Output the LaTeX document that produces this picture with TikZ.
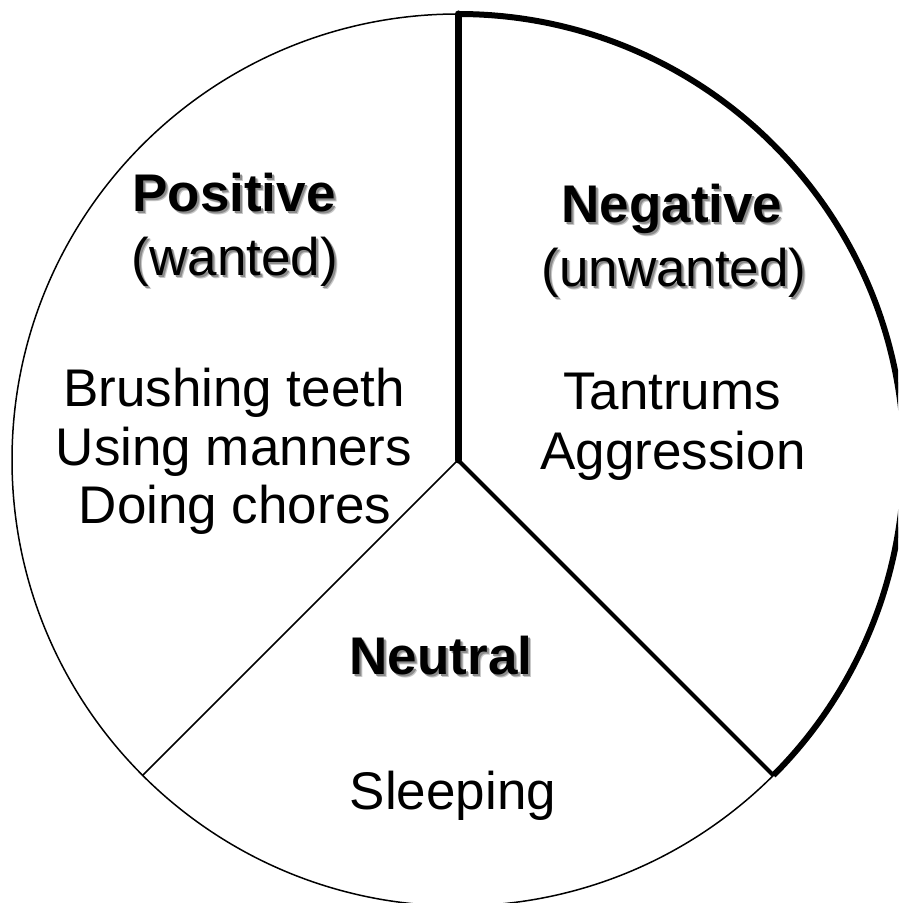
\documentclass[tikz,border=0pt]{standalone}
\usepackage{fontspec}
\setmainfont{Liberation Sans}
\newcommand{\shadowtext}[1]{%
  \makebox[0pt][l]{\hspace{3pt}\raisebox{-3pt}{\color{black!22}#1}}%
  \makebox[0pt][l]{\hspace{2pt}\raisebox{-2pt}{\color{black!45}#1}}%
  #1}

\begin{document}
\begin{tikzpicture}[
    x=1pt,
    y=1pt,
    every node/.style={
      inner sep=0pt,
      anchor=base,
      font=\fontsize{53}{60}\selectfont
    },
    heading/.style={font=\fontsize{53}{60}\selectfont\bfseries},
    thin edge/.style={line width=1.5pt},
    bold edge/.style={line width=6pt}
  ]
    \useasboundingbox (0, 0) rectangle (898, 903);
    \clip (0, 0) rectangle (898, 903);

    \coordinate (centre) at (458, 443);
    \coordinate (top) at (458, 889);
    \coordinate (low_left) at (142.6, 127.6);
    \coordinate (low_right) at (773.4, 127.6);

    \draw[thin edge] (centre) circle (446pt);
    \draw[thin edge] (centre) to (low_left);
    \draw[bold edge] (top) arc[start angle=90, end angle=-45, radius=446pt];
    \draw[line width=7pt, line cap=round] (centre) to (top);
    \draw[line width=4pt] (centre) to (low_right);

    \node[heading] (positive) at (234, 691) {\shadowtext{Positive}};
    \node (wanted) at (235, 627) {\shadowtext{(wanted)}};
    \node (brushing) at (234, 496) {Brushing teeth};
    \node (manners) at (234, 437) {Using manners};
    \node (chores) at (235, 379) {Doing chores};

    \node[heading] (negative) at (672, 680) {\shadowtext{Negative}};
    \node (unwanted) at (674, 616) {\shadowtext{(unwanted)}};
    \node (tantrums) at (672, 493) {Tantrums};
    \node (aggression) at (673, 433) {Aggression};

    \node[heading] (neutral) at (441, 228) {\shadowtext{Neutral}};
    \node (sleeping) at (453, 93) {Sleeping};

  \end{tikzpicture}
\end{document}
